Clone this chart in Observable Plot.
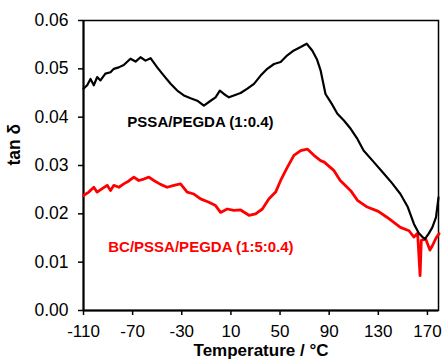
<!DOCTYPE html>
<html><head><meta charset="utf-8">
<script src="https://cdn.jsdelivr.net/npm/d3@7"></script>
<script src="https://cdn.jsdelivr.net/npm/@observablehq/plot@0.6"></script>
<style>
body{margin:0;background:#fff}
#chart svg{font-family:"Liberation Sans",Arial,sans-serif}
</style>
</head><body><div id="chart"></div>
<script>
const xTicks = [-110, -70, -30, 10, 50, 90, 130, 170];
const yTicks = [0, 0.01, 0.02, 0.03, 0.04, 0.05, 0.06];

const blackT = [-110,-107,-104.3,-101.6,-98.9,-96.2,-92.2,-88,-85.3,-81.3,-77.2,-71.8,-67.6,-63.6,-59.5,-55.4,-50,-44.6,-39.1,-33.7,-28.3,-22.8,-17.4,-12,-6.5,-2.5,1,4.3,8.4,12.4,17.9,23.4,28.8,34.2,39.6,45.1,50.5,55.9,61.3,66.8,71.7,76.2,80,83,87,92,96.7,102,107.5,113,118,126,134.6,141,148,154,159,163,166,168,171,174,177,179];
const blackV = [0.0459,0.0466,0.0479,0.0466,0.0483,0.0476,0.049,0.0493,0.05,0.0503,0.0508,0.0521,0.0515,0.0524,0.0517,0.0522,0.0503,0.0486,0.0469,0.0455,0.0445,0.0439,0.0434,0.0424,0.0434,0.0441,0.0455,0.0448,0.0441,0.0445,0.045,0.0459,0.0469,0.0486,0.05,0.051,0.0514,0.0528,0.0538,0.0545,0.0552,0.0538,0.052,0.0497,0.0448,0.0428,0.0407,0.0393,0.0376,0.0355,0.0331,0.0308,0.0283,0.0264,0.0241,0.0214,0.0179,0.016,0.0152,0.0148,0.0159,0.0172,0.0193,0.0234];

const redT = [-110,-105.7,-101.6,-98.9,-94.8,-90.7,-88,-85.3,-81.2,-77.2,-73.1,-69,-65,-60.9,-56.8,-52.7,-47.3,-41.9,-36.4,-31,-25.6,-20.1,-14.7,-7.9,-2.5,1.6,7,12.4,17.9,24.7,30.1,35.6,41,46.4,50.5,55.9,61.3,66.8,72.2,77.6,83,86,93.7,99,107.5,113,121,130,137,148,155,159,162,164,165,168.6,172,174,177,179.5];
const redV = [0.0238,0.0245,0.0255,0.0245,0.0252,0.0259,0.0248,0.0259,0.0255,0.0262,0.0268,0.0276,0.0269,0.0272,0.0276,0.0269,0.0261,0.0255,0.0259,0.0262,0.0245,0.0241,0.0231,0.0224,0.0217,0.0203,0.021,0.0207,0.0208,0.0197,0.02,0.021,0.0231,0.0245,0.0269,0.0296,0.0321,0.0331,0.0334,0.0321,0.031,0.0307,0.029,0.0269,0.0248,0.0228,0.0214,0.0205,0.0193,0.0172,0.0165,0.0152,0.016,0.0072,0.0145,0.0148,0.0125,0.0134,0.015,0.0159];

const seriesNames = ["PSSA/PEGDA (1:0.4)", "BC/PSSA/PEGDA (1:5:0.4)"];
const seriesColors = ["#000000", "#ff0000"];
const labelX = [-14.8, -14.4];
const labelY = [0.039, 0.013];

const xLabel = "Temperature / °C";
const yLabel = "tan δ";

const blackData = blackT.map((t, i) => ({t, v: blackV[i]}));
const redData = redT.map((t, i) => ({t, v: redV[i]}));
const labels = seriesNames.map((name, i) => ({name, x: labelX[i], y: labelY[i], color: seriesColors[i]}));

const chart = Plot.plot({
  width: 442,
  height: 360,
  marginLeft: 83,
  marginRight: 4,
  marginTop: 20,
  marginBottom: 50,
  style: {fontSize: "17.5px", fontFamily: "'Liberation Sans', Arial, sans-serif", color: "#000", background: "#fff"},
  x: {domain: [-110, 179]},
  y: {domain: [0, 0.06]},
  marks: [
    Plot.frame({stroke: "#000", strokeWidth: 1.5}),
    Plot.axisX({ticks: xTicks, tickSize: 5, tickPadding: 9, strokeWidth: 1.5, tickFormat: d => String(d), label: null, fontSize: 17}),
    Plot.axisY({ticks: yTicks, tickSize: 5, tickPadding: 10, strokeWidth: 1.5, tickFormat: d3.format(".2f"), label: null, fontSize: 17.5}),
    Plot.ruleX([-110], {stroke: "#000", strokeWidth: 2}),
    Plot.ruleY([0], {stroke: "#000", strokeWidth: 2}),
    Plot.line(redData, {x: "t", y: "v", stroke: seriesColors[1], strokeWidth: 2.8}),
    Plot.line(blackData, {x: "t", y: "v", stroke: seriesColors[0], strokeWidth: 2.2}),
    Plot.text(labels, {x: "x", y: "y", text: "name", fill: "color", fontWeight: "bold", fontSize: 15}),
    Plot.text([xLabel], {text: d => d, frameAnchor: "bottom", dy: 45, fontWeight: "bold", fontSize: 17}),
    Plot.text([yLabel], {text: d => d, frameAnchor: "left", dx: -69, rotate: -90, fontWeight: "bold", fontSize: 17.5})
  ]
});
document.getElementById("chart").appendChild(chart);
</script>
</body></html>
